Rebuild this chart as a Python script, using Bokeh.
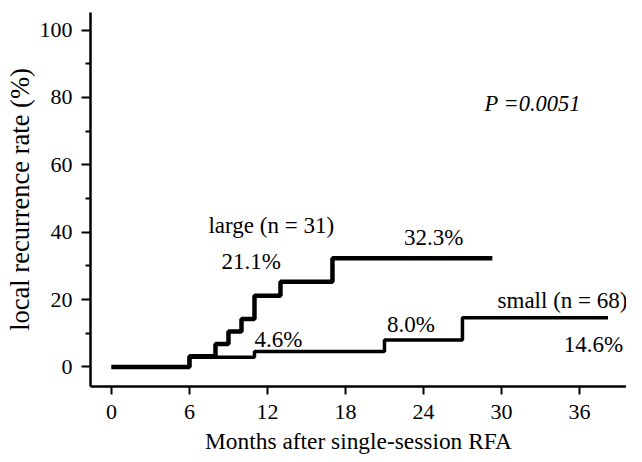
from bokeh.plotting import figure
from bokeh.models import Range1d, FixedTicker, Label
from bokeh.embed import file_html
from bokeh.resources import INLINE

# Data (months, cumulative local recurrence %)
large_months = [0, 6, 8, 9, 10, 11, 13, 17, 29.3]
large_rate = [0, 3.2, 6.8, 10.5, 14.2, 21.1, 25.3, 32.3, 32.3]
small_months = [0, 6, 11, 21, 27, 38.2]
small_rate = [0, 2.9, 4.6, 8.0, 14.6, 14.6]

x_ticks = [0, 6, 12, 18, 24, 30, 36]
y_ticks = [0, 20, 40, 60, 80, 100]
y_minor = [10, 30, 50, 70, 90]

ann_text = ["large (n = 31)", "21.1%", "4.6%", "32.3%", "8.0%", "small (n = 68)", "14.6%"]
ann_x = [7.46, 8.46, 11.0, 22.5, 21.2, 29.7, 34.8]
ann_y = [42.0, 31.3, 8.2, 38.4, 12.6, 19.7, 6.7]
p_text = "P =0.0051"
p_x = 28.7
p_y = 78.2

x_title = "Months after single-session RFA"
y_title = "local recurrence rate (%)"

FONT = "Liberation Serif"

p = figure(width=626, height=456, output_backend="svg", toolbar_location=None,
           x_range=Range1d(-1.615, 39.62), y_range=Range1d(-5.8, 105.2),
           min_border_left=90, min_border_top=12, min_border_right=0, min_border_bottom=70)
p.outline_line_color = None
p.xgrid.visible = False
p.ygrid.visible = False
p.background_fill_color = "white"
p.border_fill_color = "white"

p.step(large_months, large_rate, mode="after", line_color="black", line_width=4.5)
p.step(small_months, small_rate, mode="after", line_color="black", line_width=3.5)

for t, x, y in zip(ann_text, ann_x, ann_y):
    p.add_layout(Label(x=x, y=y, text=t, text_font=FONT, text_font_size="23px",
                       text_align="left", text_baseline="middle", text_color="black"))
p.add_layout(Label(x=p_x, y=p_y, text=p_text, text_font=FONT, text_font_size="22.5px",
                   text_font_style="italic", text_align="left", text_baseline="middle",
                   text_color="black"))

xa = p.xaxis[0]
xa.ticker = FixedTicker(ticks=x_ticks)
xa.axis_line_width = 2.5
xa.axis_line_color = "black"
xa.major_tick_line_color = "black"
xa.major_tick_line_width = 2
xa.major_tick_out = 8
xa.major_tick_in = 0
xa.minor_tick_out = 0
xa.minor_tick_in = 0
xa.major_label_text_font = FONT
xa.major_label_text_font_size = "22px"
xa.major_label_text_color = "black"
xa.major_label_standoff = 10
xa.axis_label = x_title
xa.axis_label_text_font = FONT
xa.axis_label_text_font_size = "23.4px"
xa.axis_label_text_font_style = "normal"
xa.axis_label_text_color = "black"
xa.axis_label_standoff = 6

ya = p.yaxis[0]
ya.ticker = FixedTicker(ticks=y_ticks, minor_ticks=y_minor)
ya.axis_line_width = 2.5
ya.axis_line_color = "black"
ya.major_tick_line_color = "black"
ya.minor_tick_line_color = "black"
ya.major_tick_line_width = 2
ya.minor_tick_line_width = 2
ya.major_tick_out = 9
ya.major_tick_in = 0
ya.minor_tick_out = 5
ya.minor_tick_in = 0
ya.major_label_text_font = FONT
ya.major_label_text_font_size = "22px"
ya.major_label_text_color = "black"
ya.major_label_standoff = 9
ya.axis_label = y_title
ya.axis_label_text_font = FONT
ya.axis_label_text_font_size = "26.5px"
ya.axis_label_text_font_style = "normal"
ya.axis_label_text_color = "black"
ya.axis_label_standoff = 2

open("out.html", "w").write(file_html(p, INLINE))
